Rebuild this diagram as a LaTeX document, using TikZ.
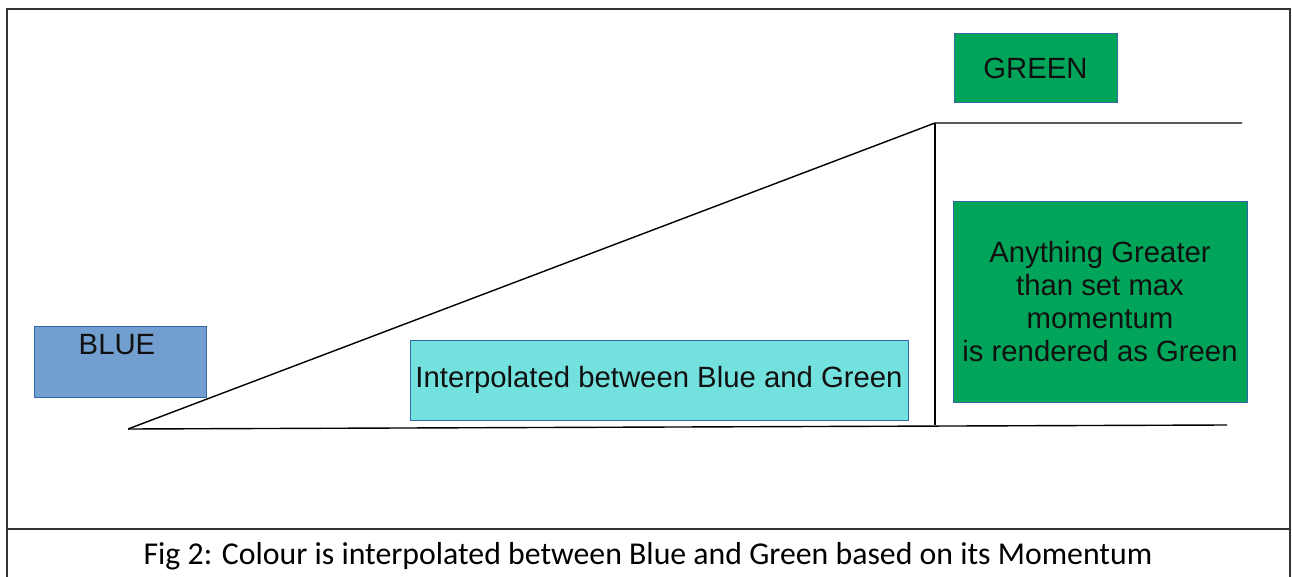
\documentclass[tikz,border=0pt]{standalone}
\usepackage{fontspec}
\setmainfont{Liberation Sans}
\newfontfamily\capfont{Carlito}
\definecolor{bluefill}{HTML}{729FCF}
\definecolor{blueedge}{HTML}{3465A4}
\definecolor{greenfill}{HTML}{00A55A}
\definecolor{cyanfill}{HTML}{73E2DE}
\definecolor{textdark}{HTML}{111111}
\begin{document}
\begin{tikzpicture}[x=1pt,y=-1pt,
  box/.style={draw=blueedge, line width=1pt, inner sep=0pt, text=textdark,
    font=\fontsize{29.3}{33}\selectfont, align=center},
  edge/.style={draw=black, line width=1.4pt}]
\useasboundingbox (0,0) rectangle (1292,577);
% frame
\draw[line width=1.3pt, black!80] (7,577) -- (7,9) -- (1290,9) -- (1290,577);
\draw[line width=1.3pt, black!80] (7,529) -- (1290,529);
% boxes
\node[box, fill=bluefill, minimum width=172pt, minimum height=71pt] (blue) at (120,361.5) {};
\node[text=textdark, font=\fontsize{29.3}{33}\selectfont] (bluelbl) at (117,345) {BLUE};
\node[box, fill=greenfill, minimum width=163pt, minimum height=69pt] (green) at (1035.5,68.5) {\raisebox{-1pt}{GREEN}};
\node[box, fill=cyanfill, minimum width=498pt, minimum height=80pt] (interp) at (659,380) {\raisebox{-3pt}{Interpolated between Blue and Green}};
\node[box, fill=greenfill, minimum width=294pt, minimum height=200pt] (max) at (1100,302) {Anything Greater\\than set max\\momentum\\is rendered as Green};
% ramp
\coordinate (a) at (128,429);
\coordinate (b) at (935,123);
\coordinate (c) at (935,425);
\coordinate (d) at (1242,123);
\coordinate (e) at (1227,425);
\draw[edge] (a) -- (b) -- (d);
\draw[edge] (b) -- (c);
\draw[edge] (a) -- (e);
% caption
\node[font=\capfont\fontsize{31.8}{36}\selectfont, text=black] (cap) at (648,556) {Fig 2: Colour is interpolated between Blue and Green based on its Momentum};
\end{tikzpicture}
\end{document}
